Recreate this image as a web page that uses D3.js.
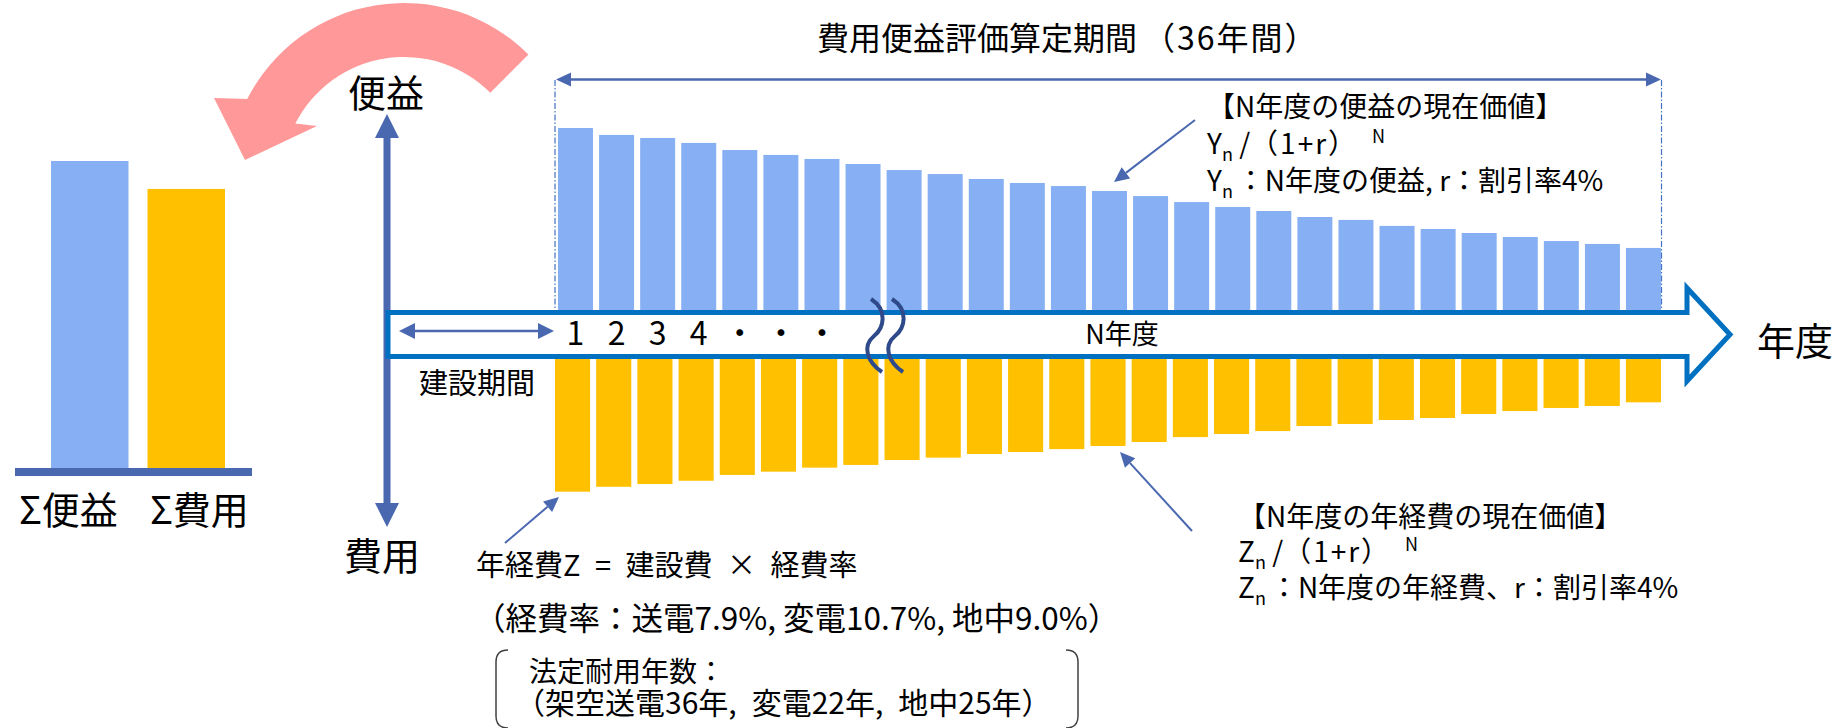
<!DOCTYPE html>
<html lang="ja">
<head>
<meta charset="utf-8">
<script src="https://cdn.jsdelivr.net/npm/d3@7"></script>
<style>
body { margin: 0; background: #fff; }
svg text { font-family: "Noto Sans CJK JP", "Noto Sans", sans-serif; fill: #000; }
</style>
</head>
<body>
<div id="chart-area"></div>
<script>
// values (arbitrary units, first benefit bar = 100)
var years = [1, 2, 3, 4, 5, 6, 7, 8, 9, 10, 11, 12, 13, 14, 15, 16, 17, 18, 19, 20, 21, 22, 23, 24, 25, 26, 27];
var benefit = [100, 96.2, 94.5, 91.8, 87.9, 85.2, 83, 80.2, 76.9, 74.7, 72, 69.8, 68.1, 65.4, 62.6, 59.3, 56.6, 54.4, 51.1, 49.5, 46.2, 44.5, 42.3, 40.1, 37.9, 36.3, 34.1];
var cost = [72.9, 70.2, 68.7, 66.9, 63.7, 61.9, 59.7, 58.2, 55.5, 54.2, 52.2, 51.1, 49.5, 47.8, 45.6, 42.9, 41.2, 39.6, 36.8, 35.7, 33.5, 32.4, 30.2, 28.6, 26.9, 25.8, 23.8];
var tickLabels = ["1", "2", "3", "4", "・", "・", "・"];
var sumLabels = ["Σ便益", "Σ費用"];
var sumValues = [100, 90.9];

var width = 1848;
var height = 728;
var axisColor = "#4A68B0";

var svg = d3.select("#chart-area")
    .append("svg")
        .attr("width", width)
        .attr("height", height);

var axisTop = 310, axisBottom = 359;

var x = d3.scaleBand().domain(years).range([558, 1661]).paddingInner(0.148);
var xCost = d3.scaleBand().domain(years).range([555, 1661]).paddingInner(0.148);
var y = d3.scaleLinear().domain([0, 100]).range([0, 182]);

// arrow helper: line plus filled head at (x2, y2)
function arrow(x1, y1, x2, y2, len, half, w) {
    var dx = x2 - x1, dy = y2 - y1, L = Math.hypot(dx, dy);
    var ux = dx / L, uy = dy / L;
    var bx = x2 - ux * len, by = y2 - uy * len;
    svg.append("line")
        .attr("x1", x1).attr("y1", y1).attr("x2", bx).attr("y2", by)
        .attr("stroke", axisColor).attr("stroke-width", w);
    svg.append("path")
        .attr("d", "M" + x2 + "," + y2 + "L" + (bx - uy * half) + "," + (by + ux * half) +
            "L" + (bx + uy * half) + "," + (by - ux * half) + "Z")
        .attr("fill", axisColor);
}

// pink curved arrow
var pc = {cx: 404, cy: 179, ro: 176, ri: 122, a0: -45 * Math.PI / 180, a1: -153 * Math.PI / 180};
var p = d3.path();
p.moveTo(pc.cx + pc.ro * Math.cos(pc.a0), pc.cy + pc.ro * Math.sin(pc.a0));
p.arc(pc.cx, pc.cy, pc.ro, pc.a0, pc.a1, true);
p.lineTo(214, 98);
p.lineTo(245, 160);
p.lineTo(317, 126);
p.lineTo(pc.cx + pc.ri * Math.cos(pc.a1), pc.cy + pc.ri * Math.sin(pc.a1));
p.arc(pc.cx, pc.cy, pc.ri, pc.a1, pc.a0, false);
p.closePath();
svg.append("path").attr("d", p.toString()).attr("fill", "#FF9999");

// summary bars
var xs = d3.scaleBand().domain(sumLabels).range([51, 225]).paddingInner(0.197);
var ys = d3.scaleLinear().domain([0, 100]).range([0, 307]);
svg.selectAll("rect.sum")
    .data(sumValues)
    .enter()
    .append("rect")
        .attr("class", "sum")
        .attr("x", (d, i) => xs(sumLabels[i]))
        .attr("y", (d) => 468 - ys(d))
        .attr("width", xs.bandwidth())
        .attr("height", (d) => ys(d))
        .attr("fill", (d, i) => i == 0 ? "#86B0F3" : "#FFC000");
svg.append("rect")
    .attr("x", 15).attr("y", 468).attr("width", 237).attr("height", 8)
    .attr("fill", axisColor);
svg.selectAll("text.sumlabel")
    .data(sumLabels)
    .enter()
    .append("text")
        .attr("class", "sumlabel")
        .attr("x", (d, i) => i == 0 ? 19 : 150)
        .attr("y", 524)
        .attr("font-size", 38)
        .text((d) => d);

// vertical axis
svg.append("line").attr("x1", 387).attr("x2", 387).attr("y1", 136).attr("y2", 505)
    .attr("stroke", axisColor).attr("stroke-width", 7);
arrow(387, 300, 387, 114, 24, 12, 0.1);
arrow(387, 300, 387, 527, 24, 12, 0.1);
svg.append("text").attr("x", 386).attr("y", 107).attr("font-size", 38)
    .attr("text-anchor", "middle").text("便益");
svg.append("text").attr("x", 382).attr("y", 570).attr("font-size", 38)
    .attr("text-anchor", "middle").text("費用");

// evaluation period
[555, 1661.5].forEach((xx) => {
    svg.append("line").attr("x1", xx).attr("x2", xx).attr("y1", 80).attr("y2", axisTop)
        .attr("stroke", "#4472C4").attr("stroke-width", 1.2)
        .attr("stroke-dasharray", "6,2,1.5,2");
});
arrow(1100, 79.5, 556, 79.5, 15, 7, 2.5);
arrow(1100, 79.5, 1661, 79.5, 15, 7, 2.5);
var title = svg.append("text").attr("x", 817).attr("y", 50).attr("font-size", 32);
title.append("tspan").text("費用便益評価算定期間");
title.append("tspan").attr("dx", 6).attr("letter-spacing", 2).text("（36年間）");

// yearly bars
svg.selectAll("rect.benefit")
    .data(benefit)
    .enter()
    .append("rect")
        .attr("class", "benefit")
        .attr("x", (d, i) => x(years[i]))
        .attr("y", (d) => axisTop - y(d))
        .attr("width", x.bandwidth())
        .attr("height", (d) => y(d))
        .attr("fill", "#86B0F3");
svg.selectAll("rect.cost")
    .data(cost)
    .enter()
    .append("rect")
        .attr("class", "cost")
        .attr("x", (d, i) => xCost(years[i]))
        .attr("y", axisBottom)
        .attr("width", xCost.bandwidth())
        .attr("height", (d) => y(d))
        .attr("fill", "#FFC000");

// horizontal block arrow (year axis)
svg.append("path")
    .attr("d", "M388,312.5L1687,312.5L1687,288L1730,334.5L1687,381L1687,356.5L388,356.5Z")
    .attr("fill", "#fff")
    .attr("stroke", "#0070C0")
    .attr("stroke-width", 5);
svg.append("text").attr("x", 1757).attr("y", 355).attr("font-size", 38).text("年度");

// construction period
arrow(476, 331, 399, 331, 16, 8, 2.5);
arrow(476, 331, 554, 331, 16, 8, 2.5);
svg.append("text").attr("x", 419).attr("y", 394).attr("font-size", 29).text("建設期間");

// year labels
svg.selectAll("text.tick")
    .data(tickLabels)
    .enter()
    .append("text")
        .attr("class", "tick")
        .attr("x", (d, i) => x(years[i]) + x.bandwidth() / 2)
        .attr("y", 345)
        .attr("font-size", 32)
        .attr("text-anchor", "middle")
        .text((d) => d);
svg.append("text").attr("x", 1122).attr("y", 344).attr("font-size", 27)
    .attr("text-anchor", "middle").text("N年度");

// break mark
[871, 892].forEach((x0) => {
    svg.append("path")
        .attr("d", "M" + x0 + ",299C" + (x0 + 17) + ",310 " + (x0 + 13) + ",328 " + (x0 + 3) + ",336" +
            "C" + (x0 - 9) + ",346 " + (x0 - 4) + ",362 " + (x0 + 11) + ",372")
        .attr("fill", "none").attr("stroke", "#2E4A8A").attr("stroke-width", 4);
});

// annotations
function formula(xp, yp, letter) {
    var t = svg.append("text").attr("x", xp).attr("y", yp).attr("font-size", 28);
    t.append("tspan").text(letter);
    t.append("tspan").attr("font-size", 18).attr("dy", 7).text("n");
    t.append("tspan").attr("dy", -7).text(" /");
    t.append("tspan").attr("letter-spacing", 2).text("（1+r）");
    t.append("tspan").attr("font-size", 18).attr("dx", 14).attr("dy", -11).text("N");
}
function legendLine(xp, yp, letter, rest) {
    var t = svg.append("text").attr("x", xp).attr("y", yp).attr("font-size", 28);
    t.append("tspan").text(letter);
    t.append("tspan").attr("font-size", 18).attr("dy", 7).text("n");
    t.append("tspan").attr("dy", -7).attr("dx", 4).text(rest);
}

arrow(1195, 120, 1114, 182, 15, 7, 2);
svg.append("text").attr("x", 1207).attr("y", 117).attr("font-size", 28).text("【N年度の便益の現在価値】");
formula(1207, 154, "Y");
legendLine(1207, 191, "Y", "：N年度の便益, r：割引率4%");

arrow(1192, 531, 1120, 452, 15, 7, 2);
svg.append("text").attr("x", 1238).attr("y", 527).attr("font-size", 28).text("【N年度の年経費の現在価値】");
formula(1238, 562, "Z");
legendLine(1238, 598, "Z", "：N年度の年経費、r：割引率4%");

arrow(505, 543, 559, 497, 15, 7, 2);
svg.append("text").attr("x", 476).attr("y", 576).attr("font-size", 29)
    .text("年経費Z\u2002=\u2002建設費\u2002×\u2002経費率");
svg.append("text").attr("x", 474).attr("y", 630).attr("font-size", 31.5).text("（経費率：送電7.9%, 変電10.7%, 地中9.0%）");
svg.append("path").attr("d", "M508,650Q496,650 496,662L496,716Q496,728 508,728")
    .attr("fill", "none").attr("stroke", "#404040").attr("stroke-width", 1.5);
svg.append("path").attr("d", "M1066,650Q1078,650 1078,662L1078,716Q1078,728 1066,728")
    .attr("fill", "none").attr("stroke", "#404040").attr("stroke-width", 1.5);
svg.append("text").attr("x", 529).attr("y", 682).attr("font-size", 28).text("法定耐用年数：");
svg.append("text").attr("x", 515).attr("y", 714).attr("font-size", 30)
    .text("（架空送電36年,\u2002変電22年,\u2002地中25年）");
</script>
</body>
</html>
